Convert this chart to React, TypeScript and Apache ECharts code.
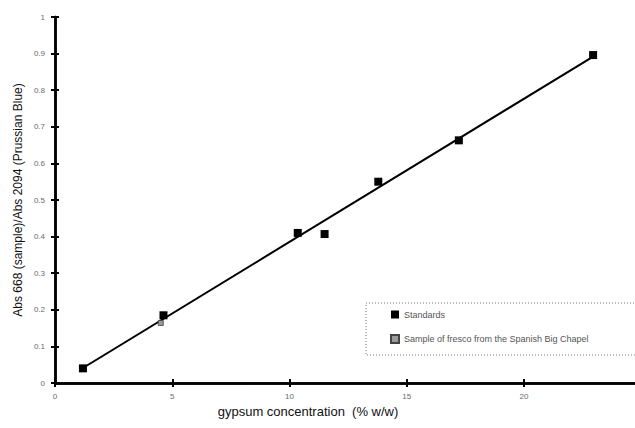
import React, { useEffect, useRef } from "react";
import * as echarts from "echarts";

// Calibration standards: gypsum concentration (% w/w) vs absorbance ratio
const standardsX = [1, 4, 9, 10, 12, 15, 20];
const standardsY = [0.04, 0.185, 0.41, 0.407, 0.55, 0.663, 0.896];

// Fresco sample measured against the calibration
const sampleX = [3.9];
const sampleY = [0.164];

// Least-squares calibration line end points
const fitX = [1, 20];
const fitY = [0.041, 0.892];

// Tick labels shown along the axes
const xTicks = [0, 5, 10, 15, 20];
const yTicks = [0, 0.1, 0.2, 0.3, 0.4, 0.5, 0.6, 0.7, 0.8, 0.9, 1];

const FONT = "Liberation Sans, Arial, sans-serif";
const GRID = { left: 55, right: 0, top: 17, bottom: 45 };
const X_MAX = 24.73;

export default function App() {
  const ref = useRef<HTMLDivElement>(null);

  useEffect(() => {
    if (!ref.current) return;
    const chart = echarts.init(ref.current, undefined, { renderer: "svg" });

    const labelStyle = { color: "#6a6a6a", fontSize: 8, fontFamily: FONT };
    const axisLine = { show: true, lineStyle: { color: "#000", width: 2.5 } };
    const tickLine = { color: "#000", width: 2 };

    chart.setOption({
      animation: false,
      backgroundColor: "#ffffff",
      // the second grid carries the inner halves of the crossing ticks
      grid: [GRID, GRID],
      xAxis: [
        {
          type: "value",
          gridIndex: 0,
          min: 0,
          max: X_MAX,
          position: "bottom",
          axisLine,
          axisTick: { show: true, length: 4, customValues: xTicks, lineStyle: tickLine },
          axisLabel: { ...labelStyle, margin: 9, customValues: xTicks },
          splitLine: { show: false },
        },
        {
          // plotting scale for the measured points
          type: "value",
          gridIndex: 0,
          min: -0.04,
          max: 21.56,
          position: "top",
          show: false,
        },
        {
          type: "value",
          gridIndex: 1,
          min: 0,
          max: X_MAX,
          position: "bottom",
          axisLine,
          axisTick: { show: true, inside: true, length: 4, customValues: xTicks, lineStyle: tickLine },
          axisLabel: { show: false },
          splitLine: { show: false },
        },
      ],
      yAxis: [
        {
          type: "value",
          gridIndex: 0,
          min: 0,
          max: 1,
          interval: 0.1,
          position: "left",
          axisLine,
          axisTick: { show: true, length: 4, lineStyle: tickLine },
          axisLabel: {
            ...labelStyle,
            margin: 10,
            customValues: yTicks,
            formatter: (v: number) => String(Math.round(v * 10) / 10),
          },
          splitLine: { show: false },
        },
        {
          type: "value",
          gridIndex: 1,
          min: 0,
          max: 1,
          interval: 0.1,
          position: "left",
          axisLine,
          axisTick: { show: true, inside: true, length: 4, lineStyle: tickLine },
          axisLabel: { show: false },
          splitLine: { show: false },
        },
      ],
      legend: {
        orient: "vertical",
        left: 385,
        top: 305,
        itemGap: 15,
        itemWidth: 8,
        itemHeight: 8,
        data: [
          { name: "Standards", icon: "rect" },
          { name: "Sample of fresco from the Spanish Big Chapel" },
        ],
        textStyle: { color: "#555", fontSize: 9, fontFamily: FONT },
      },
      graphic: [
        {
          type: "rect",
          shape: { x: 366, y: 303, width: 290, height: 52 },
          style: { fill: "none", stroke: "#777", lineWidth: 1, lineDash: [1, 2] },
          z: 1,
        },
        {
          type: "text",
          x: 308,
          y: 411,
          style: {
            text: "gypsum concentration  (% w/w)",
            fontSize: 13,
            fontFamily: FONT,
            fill: "#111",
            align: "center",
            verticalAlign: "middle",
          },
        },
        {
          type: "text",
          x: 18,
          y: 200,
          rotation: Math.PI / 2,
          style: {
            text: "Abs 668 (sample)/Abs 2094 (Prussian Blue)",
            fontSize: 12,
            fontFamily: FONT,
            fill: "#111",
            align: "center",
            verticalAlign: "middle",
          },
        },
      ],
      series: [
        {
          name: "fit",
          type: "line",
          xAxisIndex: 1,
          yAxisIndex: 0,
          data: fitX.map((x, i) => [x, fitY[i]]),
          showSymbol: false,
          symbol: "none",
          lineStyle: { color: "#000", width: 2 },
          z: 2,
        },
        {
          name: "Standards",
          type: "scatter",
          xAxisIndex: 1,
          yAxisIndex: 0,
          symbol: "rect",
          symbolSize: 8,
          itemStyle: { color: "#000", opacity: 1 },
          data: standardsX.map((x, i) => [x, standardsY[i]]),
          z: 3,
        },
        {
          name: "Sample of fresco from the Spanish Big Chapel",
          type: "scatter",
          xAxisIndex: 1,
          yAxisIndex: 0,
          symbol: "rect",
          symbolSize: 5,
          itemStyle: { color: "#9a9a9a", borderColor: "#444", borderWidth: 0.8, opacity: 1 },
          data: sampleX.map((x, i) => [x, sampleY[i]]),
          z: 4,
        },
      ],
    });

    return () => chart.dispose();
  }, []);

  return <div ref={ref} style={{ width: 635, height: 428, position: "absolute", left: 0, top: 0 }} />;
}
